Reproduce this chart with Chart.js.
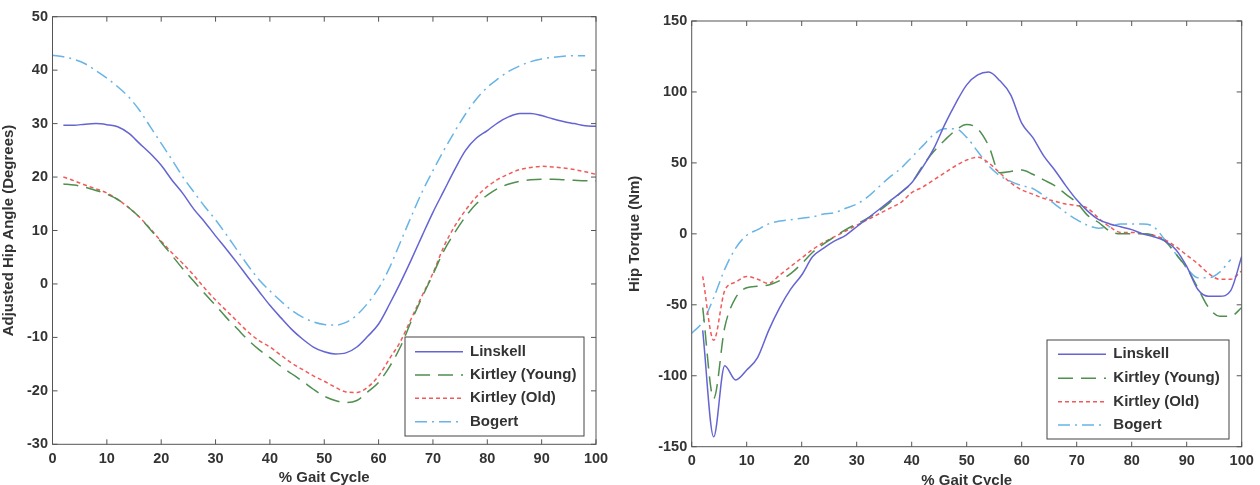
<!DOCTYPE html>
<html>
<head>
<meta charset="utf-8">
<script src="https://cdn.jsdelivr.net/npm/chart.js@4.4.1/dist/chart.umd.min.js"></script>
<style>
  html, body { margin: 0; padding: 0; background: #fff; }
  #wrap { position: relative; width: 1260px; height: 485px; overflow: hidden; }
  #angleChart { position: absolute; left: 0; top: 0; }
  #torqueChart { position: absolute; left: 620px; top: 0; }
</style>
</head>
<body>
<div id="wrap">
  <canvas id="angleChart" width="620" height="485"></canvas>
  <canvas id="torqueChart" width="640" height="485"></canvas>
</div>
<script>
// ========== DADOS ==========
const gaitX = [0, 2, 4, 6, 8, 10, 12, 14, 16, 18, 20, 22, 24, 26, 28, 30, 32, 34, 36, 38, 40,
    42, 44, 46, 48, 50, 52, 54, 56, 58, 60, 62, 64, 66, 68, 70, 72, 74, 76, 78, 80,
    82, 84, 86, 88, 90, 92, 94, 96, 98, 100];

const seriesLabels = ['Linskell', 'Kirtley (Young)', 'Kirtley (Old)', 'Bogert'];

// ângulo do quadril (graus)
const angleLinskell = [null, 29.7, 29.7, 29.9, 30.0, 29.8, 29.4, 28.2, 26.3, 24.4, 22.2, 19.4, 16.9, 14.0, 11.6, 9.0,
    6.5, 3.9, 1.2, -1.4, -4.0, -6.3, -8.5, -10.3, -11.8, -12.7, -13.1, -12.9, -11.8, -9.8, -7.5,
    -3.8, 0.2, 4.5, 9.0, 13.4, 17.4, 21.4, 25.0, 27.3, 28.7, 30.2, 31.3, 31.9, 31.9, 31.5,
    30.9, 30.4, 30.0, 29.6, 29.5];
const angleYoung = [null, 18.7, 18.5, 18.1, 17.5, 16.8, 15.8, 14.3, 12.5, 10.2, 7.8, 5.3, 2.8, 0.5, -1.8, -4.0,
    -6.3, -8.4, -10.5, -12.3, -13.8, -15.4, -16.8, -18.2, -19.7, -21.0, -21.8, -22.2, -21.8, -20.2, -18.4,
    -15.5, -11.8, -7.0, -2.5, 1.8, 6.2, 9.6, 12.6, 15.0, 16.6, 17.9, 18.7, 19.2, 19.5, 19.6,
    19.6, 19.5, 19.4, 19.3, 19.3];
const angleOld = [null, 20.0, 19.3, 18.5, 17.8, 17.0, 15.8, 14.3, 12.5, 10.3, 8.0, 5.8, 3.8, 1.6, -0.8, -3.0,
    -5.0, -7.0, -9.0, -10.6, -11.8, -13.3, -14.8, -16.0, -17.2, -18.2, -19.3, -20.2, -20.3, -19.3, -17.2,
    -14.0, -10.8, -6.5, -2.2, 2.0, 7.0, 10.8, 13.8, 16.3, 18.2, 19.6, 20.6, 21.4, 21.8, 22.0,
    21.9, 21.7, 21.4, 21.0, 20.5];
const angleBogert = [42.8, 42.5, 42.0, 41.2, 39.9, 38.5, 36.9, 35.0, 32.5, 29.4, 26.3, 23.2, 20.0, 17.2, 14.5, 12.0,
    9.2, 6.3, 3.4, 0.8, -1.3, -3.2, -4.9, -6.2, -7.1, -7.6, -7.7, -7.2, -5.8, -3.6, -0.8,
    3.0, 7.8, 12.6, 17.2, 21.2, 25.0, 28.5, 31.8, 34.6, 36.8, 38.4, 39.8, 40.8, 41.6, 42.1,
    42.4, 42.6, 42.7, 42.7, null];

// torque do quadril (Nm)
const torqueLinskell = [null, -68, -143, -93, -103, -96, -87, -68, -52, -39, -29, -16, -10, -5, -1, 5,
    11, 17, 23, 29, 36, 47, 60, 77, 92, 105, 112, 114, 108, 98, 78,
    68, 55, 45, 34, 24, 16, 10, 7, 5, 3, 0, -2, -5, -11, -23,
    -39, -44, -44, -40, -16];
const torqueYoung = [null, -52, -116, -66, -45, -38, -37, -36, -33, -28, -21, -13, -7, -2, 3, 7,
    11, 16, 22, 29, 36, 48, 58, 66, 73, 77, 74, 62, 43, 44, 45,
    42, 38, 34, 28, 22, 13, 8, 2, 0, 0, 0, -1, -5, -14, -24,
    -38, -52, -58, -58, -52];
const torqueOld = [null, -30, -75, -40, -34, -30, -32, -35, -29, -23, -17, -11, -6, -2, 2, 6,
    10, 14, 18, 22, 29, 33, 38, 43, 48, 52, 54, 50, 43, 36, 31,
    28, 25, 23, 21, 20, 18, 11, 5, 1, 1, 0, -1, -4, -9, -15,
    -21, -28, -32, -32, -26];
const torqueBogert = [-70, -62, -45, -25, -10, -1, 3, 7, 9, 10, 11, 12, 14, 15, 18, 21,
    26, 33, 40, 46, 54, 62, 70, 74, 74, 68, 58, 48, 41, 37, 34,
    32, 27, 21, 15, 10, 6, 4, 5, 7, 7, 7, 5, -4, -14, -24,
    -31, -31, -27, -18, null];

const gaitTicks = [0, 10, 20, 30, 40, 50, 60, 70, 80, 90, 100];
const angleTicks = [-30, -20, -10, 0, 10, 20, 30, 40, 50];
const torqueTicks = [-150, -100, -50, 0, 50, 100, 150];

// ========== ESTILO ==========
const FONT = '"Liberation Sans", Arial, sans-serif';
const TEXT_COLOR = '#333';
Chart.defaults.font.family = FONT;
Chart.defaults.color = TEXT_COLOR;

const lineStyles = [
    { color: '#6464d2', dash: [] },
    { color: '#4f8f4f', dash: [15, 8] },
    { color: '#f25a5a', dash: [4, 3] },
    { color: '#68b4e6', dash: [12, 5, 2, 5] }
];

function toPoints(values) {
    return gaitX.map((x, i) => ({ x: x, y: values[i] }));
}

function buildDatasets(seriesList) {
    return seriesList.map((values, i) => ({
        label: seriesLabels[i],
        data: toPoints(values),
        borderColor: lineStyles[i].color,
        borderDash: lineStyles[i].dash,
        borderWidth: 1.5,
        pointRadius: 0,
        fill: false,
        cubicInterpolationMode: 'monotone',
        spanGaps: false
    }));
}

// caixa e marcas internas no estilo MATLAB
const matlabBox = {
    id: 'matlabBox',
    afterDraw(chart) {
        const ctx = chart.ctx;
        const a = chart.chartArea;
        const xs = chart.scales.x, ys = chart.scales.y;
        const tl = 5;
        ctx.save();
        ctx.strokeStyle = '#555';
        ctx.lineWidth = 1;
        ctx.setLineDash([]);
        ctx.strokeRect(a.left, a.top, a.right - a.left, a.bottom - a.top);
        ctx.beginPath();
        xs.ticks.forEach(t => {
            const px = xs.getPixelForValue(t.value);
            ctx.moveTo(px, a.bottom); ctx.lineTo(px, a.bottom - tl);
            ctx.moveTo(px, a.top); ctx.lineTo(px, a.top + tl);
        });
        ys.ticks.forEach(t => {
            const py = ys.getPixelForValue(t.value);
            ctx.moveTo(a.left, py); ctx.lineTo(a.left + tl, py);
            ctx.moveTo(a.right, py); ctx.lineTo(a.right - tl, py);
        });
        ctx.stroke();
        ctx.restore();
    }
};

// legenda em caixa dentro do gráfico
const boxLegend = {
    id: 'boxLegend',
    afterDraw(chart, args, opts) {
        const ctx = chart.ctx;
        ctx.save();
        ctx.fillStyle = '#fff';
        ctx.fillRect(opts.x, opts.y, opts.w, opts.h);
        ctx.strokeStyle = '#444';
        ctx.lineWidth = 1;
        ctx.strokeRect(opts.x, opts.y, opts.w, opts.h);
        chart.data.datasets.forEach((ds, i) => {
            const yy = opts.rows[i];
            ctx.strokeStyle = ds.borderColor;
            ctx.lineWidth = ds.borderWidth;
            ctx.setLineDash(ds.borderDash);
            ctx.beginPath();
            ctx.moveTo(opts.lineFrom, yy);
            ctx.lineTo(opts.lineTo, yy);
            ctx.stroke();
            ctx.setLineDash([]);
            ctx.fillStyle = TEXT_COLOR;
            ctx.font = 'bold 15px ' + FONT;
            ctx.textBaseline = 'middle';
            ctx.textAlign = 'left';
            ctx.fillText(ds.label, opts.textX, yy);
        });
        ctx.restore();
    }
};

function buildOptions(cfg) {
    return {
        responsive: false,
        animation: false,
        devicePixelRatio: 1,
        layout: { padding: cfg.padding },
        plugins: {
            legend: { display: false },
            tooltip: { enabled: false },
            boxLegend: cfg.legend
        },
        scales: {
            x: {
                type: 'linear',
                min: 0,
                max: 100,
                afterBuildTicks: s => { s.ticks = gaitTicks.map(v => ({ value: v })); },
                afterFit: s => { s.height = cfg.xHeight; },
                grid: { display: false, drawTicks: false },
                border: { display: false },
                ticks: { padding: 6, font: { size: 14.5, weight: 'bold' }, color: TEXT_COLOR, maxRotation: 0 },
                title: {
                    display: true,
                    text: '% Gait Cycle',
                    font: { size: 15, weight: 'bold' },
                    color: TEXT_COLOR,
                    padding: { top: 0, bottom: cfg.xTitlePad }
                }
            },
            y: {
                type: 'linear',
                min: cfg.yMin,
                max: cfg.yMax,
                afterBuildTicks: s => { s.ticks = cfg.yTicks.map(v => ({ value: v })); },
                afterFit: s => { s.width = cfg.yWidth; },
                grid: { display: false, drawTicks: false },
                border: { display: false },
                ticks: { padding: 4.5, font: { size: 14.5, weight: 'bold' }, color: TEXT_COLOR },
                title: {
                    display: true,
                    text: cfg.yTitle,
                    font: { size: 15, weight: 'bold' },
                    color: TEXT_COLOR,
                    padding: { top: cfg.yTitlePad, bottom: 0 }
                }
            }
        }
    };
}

// ========== GRÁFICO DO ÂNGULO ==========
const angleChart = new Chart(document.getElementById('angleChart').getContext('2d'), {
    type: 'line',
    data: { datasets: buildDatasets([angleLinskell, angleYoung, angleOld, angleBogert]) },
    options: buildOptions({
        padding: { left: 0, top: 16.7, right: 24, bottom: 0 },
        xHeight: 40.7,
        yWidth: 52.5,
        yMin: -30,
        yMax: 50,
        yTicks: angleTicks,
        yTitle: 'Adjusted Hip Angle (Degrees)',
        yTitlePad: -0.5,
        xTitlePad: -1.5,
        legend: { x: 405, y: 337, w: 179, h: 99, rows: [351.7, 375, 398.3, 421.7], lineFrom: 415, lineTo: 463, textX: 470 }
    }),
    plugins: [matlabBox, boxLegend]
});

// ========== GRÁFICO DO TORQUE ==========
const torqueChart = new Chart(document.getElementById('torqueChart').getContext('2d'), {
    type: 'line',
    data: { datasets: buildDatasets([torqueLinskell, torqueYoung, torqueOld, torqueBogert]) },
    options: buildOptions({
        padding: { left: 0, top: 21, right: 18.3, bottom: 0 },
        xHeight: 38.3,
        yWidth: 71.7,
        yMin: -150,
        yMax: 150,
        yTicks: torqueTicks,
        yTitle: 'Hip Torque (Nm)',
        yTitlePad: 6,
        xTitlePad: -5,
        legend: { x: 427, y: 340, w: 182, h: 99, rows: [354.3, 378.3, 401.7, 425], lineFrom: 438, lineTo: 486, textX: 493.3 }
    }),
    plugins: [matlabBox, boxLegend]
});
console.log('Gráficos criados', angleChart.chartArea, torqueChart.chartArea);
</script>
</body>
</html>
